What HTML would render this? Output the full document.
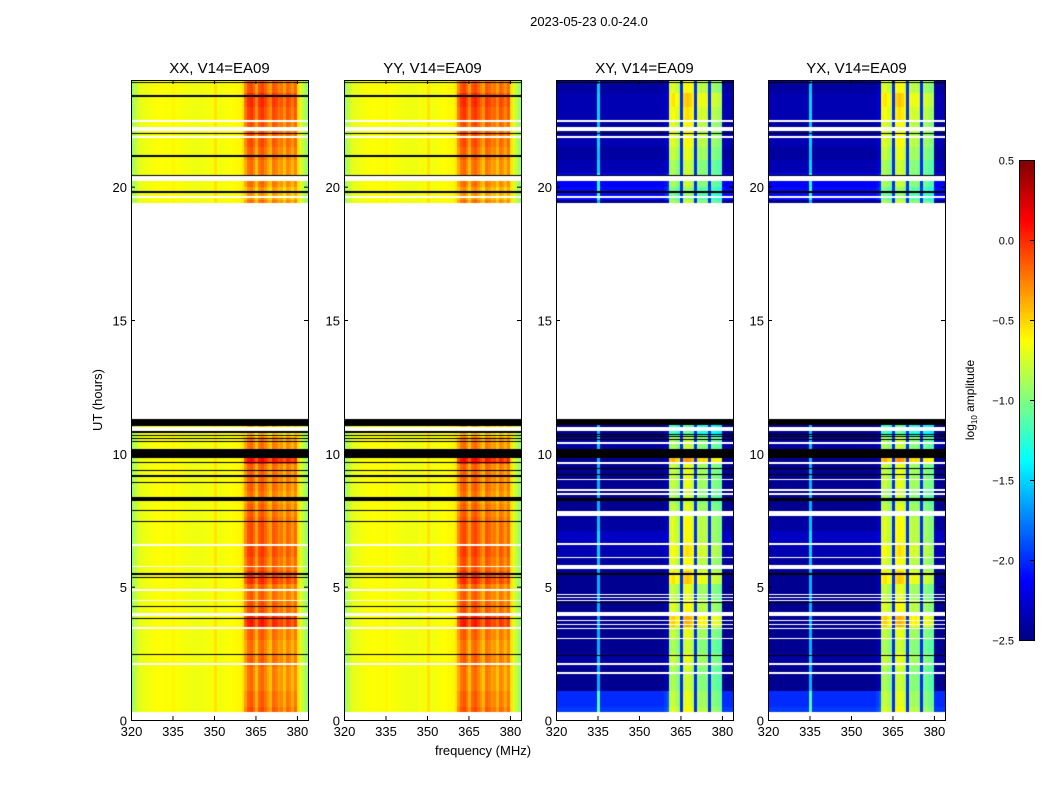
<!DOCTYPE html>
<html><head><meta charset="utf-8"><style>
body{margin:0;background:#fff;width:1050px;height:800px;overflow:hidden;position:relative;font-family:"Liberation Sans",sans-serif}
canvas{position:absolute}
svg{position:absolute;left:0;top:0}
</style></head><body>
<canvas id="c0" width="177" height="640" style="left:131px;top:80px"></canvas>
<canvas id="c1" width="177" height="640" style="left:344px;top:80px"></canvas>
<canvas id="c2" width="177" height="640" style="left:556px;top:80px"></canvas>
<canvas id="c3" width="177" height="640" style="left:768px;top:80px"></canvas>
<canvas id="cb" width="15" height="480" style="left:1019px;top:160px"></canvas>
<svg id="ov" width="1050" height="800"></svg>
<script>
// ---- data ----
const panelTitles = ["XX, V14=EA09","YY, V14=EA09","XY, V14=EA09","YX, V14=EA09"];
const xTicks = [320,335,350,365,380];
const yTicks = [0,5,10,15,20];
const cbTicks = [0.5,0.0,-0.5,-1.0,-1.5,-2.0,-2.5];
// log10 amplitude per 1 MHz channel (320..383), parallel hands
const chanP = [-0.92,-0.82,-0.74,-0.7,-0.68,-0.67,-0.66,-0.65,-0.64,-0.63,
 -0.63,-0.63,-0.64,-0.64,-0.63,-0.6,-0.63,-0.64,-0.65,-0.65,
 -0.66,-0.66,-0.67,-0.67,-0.67,-0.67,-0.66,-0.66,-0.65,-0.65,
 -0.55,-0.66,-0.66,-0.65,-0.64,-0.63,-0.63,-0.62,-0.61,-0.6,
 -0.55,-0.38,-0.22,-0.17,-0.27,-0.45,-0.22,-0.17,-0.27,-0.37,
 -0.45,-0.22,-0.27,-0.37,-0.32,-0.45,-0.27,-0.32,-0.42,-0.28,
 -0.55,-0.72,-0.82,-0.92];
// cross hands
const chanX = [-2.45,-2.45,-2.45,-2.45,-2.45,-2.45,-2.45,-2.45,-2.45,-2.45,
 -2.45,-2.45,-2.45,-2.45,-2.45,-1.6,-2.45,-2.45,-2.45,-2.45,
 -2.45,-2.45,-2.45,-2.45,-2.45,-2.45,-2.45,-2.45,-2.45,-2.45,
 -2.45,-2.45,-2.45,-2.45,-2.45,-2.45,-2.45,-2.45,-2.45,-2.4,
 -2.3,-0.9,-0.85,-0.95,-1.0,-2.0,-0.8,-0.75,-0.8,-0.9,
 -2.0,-0.95,-1.0,-0.95,-1.0,-2.0,-1.05,-1.05,-1.1,-1.15,
 -2.45,-2.45,-2.45,-2.45];
// per half-hour boost of the band region (0.0 .. 23.5 h)
const rowGain = [0.1,0.05,0,0,0.05,0,0.05,0.25,0.1,0.05,0.2,0.1,0.15,0.1,0.1,0.05,
 0,0.05,0.05,0.3,0,-0.2,0,0,0,0,0,0,0,0,0,0,0,0,0,0,0,0,0,-0.1,0,0,0.05,0.1,0.1,0.15,0.2,0.1];
// per half-hour offset of off-band cross background
const rowBgX = [0.5,0.45,0,0,0.05,0,0,0,0,0,0,0.05,0.1,0.15,0.05,0,
 0,0,0,0,0.05,0,0,0,0,0,0,0,0,0,0,0,0,0,0,0,0,0,0,0.35,0.3,0.1,0.05,0.1,0.05,0.1,0.1,0.05];
// data-present intervals (hours)
const dataSpans = [[0.3,11.3],[19.4,24]];
const whiteP = [[10.85,11.0],[6.54,6.6],[5.72,5.78],[4.85,4.9],[4.45,4.5],[3.9,4.02],[3.43,3.48],[2.08,2.13],[22.44,22.5],[22.1,22.22],[21.84,21.9],[20.2,20.42],[19.58,19.64]];
const blackP = [[11.03,11.3],[10.78,10.82],[10.66,10.7],[10.55,10.59],[10.44,10.48],[9.82,10.16],[9.62,9.66],[9.35,9.39],[9.13,9.17],[8.9,8.94],[8.21,8.36],[7.85,7.89],[7.44,7.48],[5.45,5.5],[5.34,5.38],[4.22,4.26],[3.77,3.81],[2.42,2.46],[23.88,23.93],[23.38,23.43],[21.98,22.03],[21.13,21.18],[20.41,20.45],[19.78,19.83]];
const whiteX = [[10.85,11.0],[10.35,10.42],[9.6,9.66],[9.0,9.05],[8.6,8.66],[8.45,8.5],[7.65,7.84],[6.56,6.62],[6.07,6.12],[5.67,5.8],[4.67,4.72],[4.56,4.6],[4.45,4.5],[3.9,4.05],[3.7,3.74],[3.55,3.59],[3.4,3.44],[3.02,3.07],[2.08,2.13],[1.74,1.79],[22.44,22.5],[22.1,22.22],[21.84,21.9],[20.2,20.42],[19.58,19.64]];
const blackX = [[11.05,11.3],[10.7,10.74],[10.62,10.66],[10.5,10.54],[9.82,10.16],[9.4,9.44],[9.2,9.24],[8.21,8.32],[5.43,5.5],[4.37,4.42],[2.4,2.44],[23.88,23.93],[21.98,22.03],[20.41,20.45],[19.78,19.83]];

// ---- scales ----
const X0s=[131,344,556,768], PW=177, TOP=80, PH=640;
const fx = f => (f-320)*PW/64;
const fy = h => PH - h*PH/24;
function jet(v){let t=(v+2.5)/3;t=Math.max(0,Math.min(1,t));
 const c=a=>Math.round(255*Math.max(0,Math.min(1,a)));
 return `rgb(${c(1.5-Math.abs(4*t-3))},${c(1.5-Math.abs(4*t-2))},${c(1.5-Math.abs(4*t-1))})`;}

for(let p=0;p<4;p++){
 const ctx=document.getElementById('c'+p).getContext('2d');
 const cross=p>=2;
 const prof=cross?chanX:chanP;
 const dt=0.1;
 dataSpans.forEach(([a,b])=>{
  for(let h=a;h<b-1e-6;h+=dt){
   const r=Math.min(47,Math.floor(h*2));
   const y1=Math.round(fy(Math.min(b,h+dt))), y2=Math.round(fy(h));
   for(let c=0;c<64;c++){
    const inBand=c>=41&&c<=59;
    let v=prof[c];
    if(inBand) v+= (cross?1.5:1)*rowGain[r]*(prof[c]>-1.5||!cross?1:0);
    else if(cross) v+=rowBgX[r];
    const xa=Math.round(fx(320+c)), xb=Math.round(fx(321+c));
    ctx.fillStyle=jet(v); ctx.fillRect(xa,y1,xb-xa,y2-y1);
   }
  }
 });
 const W=cross?whiteX:whiteP, B=cross?blackX:blackP;
 ctx.fillStyle='#fff';
 W.forEach(([a,b])=>{const y1=Math.round(fy(b)),y2=Math.round(fy(a));ctx.fillRect(0,y1,PW,Math.max(1,y2-y1));});
 ctx.fillStyle='#000';
 B.forEach(([a,b])=>{const y1=Math.round(fy(b)),y2=Math.round(fy(a));ctx.fillRect(0,y1,PW,Math.max(1,y2-y1));});
}
{const ctx=document.getElementById('cb').getContext('2d');
 for(let i=0;i<480;i++){ctx.fillStyle=jet(0.5-3*i/480);ctx.fillRect(0,i,15,1);} }

// ---- overlay ----
const NS='http://www.w3.org/2000/svg', ov=document.getElementById('ov');
function mk(tag,attrs,txt){const e=document.createElementNS(NS,tag);for(const k in attrs)e.setAttribute(k,attrs[k]);if(txt!==undefined)e.textContent=txt;ov.appendChild(e);return e;}
let t=mk('text',{x:589,y:26,'text-anchor':'middle','font-size':13},'2023-05-23 0.0-24.0');


for(let p=0;p<4;p++){
 const x0=X0s[p];
 const fr=mk('rect',{x:x0+0.5,y:TOP+0.5,width:PW,height:PH,fill:'none',stroke:'#000','stroke-width':1});
 
 
 const tt=mk('text',{x:x0+PW/2,y:73,'text-anchor':'middle','font-size':15},panelTitles[p]);
 
 
 xTicks.forEach(f=>{const x=x0+fx(f)+0.5;
  mk('line',{x1:x,x2:x,y1:TOP+PH,y2:TOP+PH-4,stroke:'#000'});
  mk('line',{x1:x,x2:x,y1:TOP,y2:TOP+4,stroke:'#000'});
  const l=mk('text',{x:x,y:TOP+PH+16,'text-anchor':'middle','font-size':13},String(f));
  
  
 });
 yTicks.forEach(h=>{const y=TOP+fy(h)+0.5;
  mk('line',{x1:x0,x2:x0+4,y1:y,y2:y,stroke:'#000'});
  mk('line',{x1:x0+PW,x2:x0+PW-4,y1:y,y2:y,stroke:'#000'});
  const l=mk('text',{x:x0-4,y:y+5,'text-anchor':'end','font-size':13},String(h));
  
  
 });
}
t=mk('text',{x:0,y:0,'text-anchor':'middle','font-size':13,transform:'translate(102,400) rotate(-90)'},'UT (hours)');


t=mk('text',{x:483,y:755,'text-anchor':'middle','font-size':13},'frequency (MHz)');


const cbf=mk('rect',{x:1019.5,y:160.5,width:15,height:480,fill:'none',stroke:'#000'});


cbTicks.forEach(v=>{const y=160+(0.5-v)/3*480+0.5;
 mk('line',{x1:1030,x2:1034,y1:y,y2:y,stroke:'#000'});
 const l=mk('text',{x:1014,y:y+4,'text-anchor':'end','font-size':11},(v<0?'\u2212':'')+Math.abs(v).toFixed(1));
 
 
});
t=mk('text',{x:0,y:0,'text-anchor':'middle','font-size':12,transform:'translate(974,400) rotate(-90)'});
t.innerHTML='log<tspan font-size="8" dy="3">10</tspan><tspan dy="-3"> amplitude</tspan>';


</script>
</body></html>
